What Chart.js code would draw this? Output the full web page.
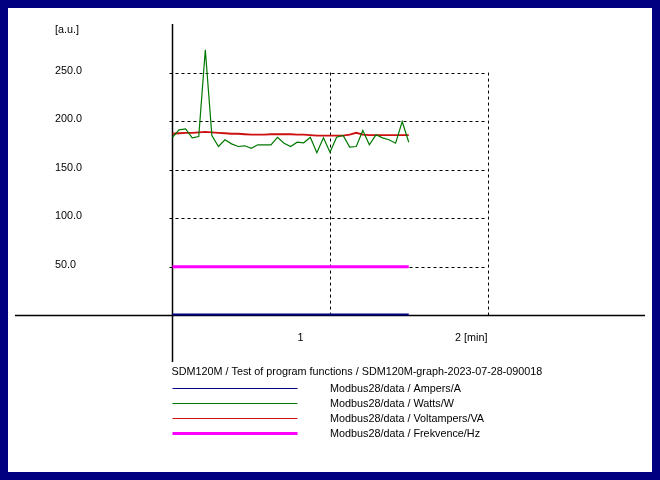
<!DOCTYPE html>
<html>
<head>
<meta charset="utf-8">
<script src="https://cdn.jsdelivr.net/npm/chart.js@4"></script>
<style>
  html, body { margin: 0; padding: 0; background: #000080; }
  #wrap { position: absolute; left: 8px; top: 8px; width: 644px; height: 464px; background: #fff; }
</style>
</head>
<body>
<div id="wrap"><canvas id="graph" width="644" height="464"></canvas></div>
<script>
const graphTitle = "SDM120M / Test of program functions / SDM120M-graph-2023-07-28-090018";
const yTicks = [50, 100, 150, 200, 250];
const xTicks = [1, 2];
const yUnit = "[a.u.]";
const xUnit = "[min]";

// sample times in seconds
const timeSec = [0, 2.5, 5, 7.5, 10, 12.5, 15, 17.5, 20, 22.5, 25, 27.5, 30, 32.5, 35, 37.5, 40, 42.5,
  45, 47.5, 50, 52.5, 55, 57.5, 60, 62.5, 65, 67.5, 70, 72.5, 75, 77.5, 80, 82.5, 85, 87.5, 90];

const ampers = [0.8, 0.8, 0.8, 0.8, 0.8, 0.8, 0.8, 0.8, 0.8, 0.8, 0.8, 0.8, 0.8, 0.8, 0.8, 0.8, 0.8, 0.8,
  0.8, 0.8, 0.8, 0.8, 0.8, 0.8, 0.8, 0.8, 0.8, 0.8, 0.8, 0.8, 0.8, 0.8, 0.8, 0.8, 0.8, 0.8, 0.8];
const watts = [183.4, 191.0, 192.1, 182.8, 184.2, 273.5, 185.2, 173.9, 180.8, 176.6, 173.9, 174.6, 172.1, 175.6,
  175.6, 175.6, 183.4, 177.3, 173.9, 178.3, 177.7, 183.4, 167.4, 182.8, 168.0, 183.4, 185.2, 173.2,
  173.9, 190.3, 175.6, 185.9, 182.8, 180.8, 177.3, 199.6, 178.3];
const voltampers = [187, 187.5, 188, 188, 188.5, 189, 188.5, 188, 187.5, 187, 187, 186.5, 186, 186, 186, 186.5,
  186.5, 186.5, 186.5, 186, 186, 185.5, 185, 185, 185, 185, 185, 186, 188, 186, 185.5, 185.5, 185.5,
  185.5, 185.5, 185.5, 185.5];
const frekvence = [50, 50, 50, 50, 50, 50, 50, 50, 50, 50, 50, 50, 50, 50, 50, 50, 50, 50,
  50, 50, 50, 50, 50, 50, 50, 50, 50, 50, 50, 50, 50, 50, 50, 50, 50, 50, 50];

const seriesNames = [
  "Modbus28/data / Ampers/A",
  "Modbus28/data / Watts/W",
  "Modbus28/data / Voltampers/VA",
  "Modbus28/data / Frekvence/Hz"
];

const toPoints = (vals) => vals.map((v, i) => ({ x: timeSec[i] / 60, y: v }));

const FONT = "10.8px 'Liberation Sans', Arial, sans-serif";

const axesPlugin = {
  id: "axes",
  beforeDatasetsDraw(chart) {
    const { ctx, chartArea, scales: { x, y } } = chart;
    const x0 = x.getPixelForValue(0);
    const y0 = y.getPixelForValue(0);
    const xEnd = x.getPixelForValue(xTicks[xTicks.length - 1]);
    const yTop = y.getPixelForValue(yTicks[yTicks.length - 1]);
    ctx.save();
    ctx.strokeStyle = "#000";
    ctx.lineWidth = 1;
    // dashed grid
    ctx.setLineDash([3, 3]);
    yTicks.forEach(v => {
      const py = Math.round(y.getPixelForValue(v)) + 0.5;
      ctx.beginPath();
      ctx.moveTo(x0 - 3, py);
      ctx.lineTo(xEnd, py);
      ctx.stroke();
    });
    xTicks.forEach(v => {
      const px = Math.round(x.getPixelForValue(v)) + 0.5;
      ctx.beginPath();
      ctx.moveTo(px, yTop);
      ctx.lineTo(px, y0 + 3);
      ctx.stroke();
    });
    // axes
    ctx.setLineDash([]);
    ctx.lineWidth = 1.5;
    ctx.beginPath();
    ctx.moveTo(chartArea.left, y0);
    ctx.lineTo(chartArea.right, y0);
    ctx.moveTo(x0, chartArea.top);
    ctx.lineTo(x0, chartArea.bottom);
    ctx.stroke();
    ctx.restore();
  },
  afterDraw(chart) {
    const { ctx, scales: { x, y } } = chart;
    const x0 = x.getPixelForValue(0);
    const y0 = y.getPixelForValue(0);
    ctx.save();
    ctx.font = FONT;
    ctx.fillStyle = "#000";
    ctx.textBaseline = "alphabetic";
    ctx.textAlign = "left";
    const labelX = 47;
    yTicks.forEach(v => {
      ctx.fillText(v.toFixed(1), labelX, y.getPixelForValue(v) + 1);
    });
    ctx.fillText(yUnit, labelX, 25);
    xTicks.forEach((v, i) => {
      const full = v + " " + xUnit;
      const w = ctx.measureText(full).width;
      const px = x.getPixelForValue(v);
      const txt = i === xTicks.length - 1 ? full : String(v);
      ctx.fillText(txt, px - w, y0 + 26);
    });
    // legend
    ctx.fillText(graphTitle, x0 - 1, 367);
    chart.data.datasets.forEach((ds, i) => {
      const ly = 379.5 + i * 15.2;
      ctx.strokeStyle = ds.borderColor;
      ctx.lineWidth = i === 3 ? 3 : 1;
      ctx.beginPath();
      ctx.moveTo(x0, Math.round(ly) + 0.5);
      ctx.lineTo(x0 + 125, Math.round(ly) + 0.5);
      ctx.stroke();
      ctx.fillText(ds.label, 322, ly + 4);
    });
    ctx.restore();
  }
};

new Chart(document.getElementById("graph").getContext("2d"), {
  type: "line",
  data: {
    datasets: [
      { label: seriesNames[0], data: toPoints(ampers), borderColor: "#000080", borderWidth: 2 },
      { label: seriesNames[1], data: toPoints(watts), borderColor: "#007800", borderWidth: 1.2 },
      { label: seriesNames[2], data: toPoints(voltampers), borderColor: "#cc1010", borderWidth: 1.8 },
      { label: seriesNames[3], data: toPoints(frekvence), borderColor: "#ff00ff", borderWidth: 3 }
    ]
  },
  options: {
    responsive: false,
    animation: false,
    events: [],
    layout: { padding: { left: 7, top: 16, right: 7, bottom: 110 } },
    elements: { point: { radius: 0 }, line: { tension: 0 } },
    plugins: { legend: { display: false }, tooltip: { enabled: false } },
    scales: {
      x: { type: "linear", min: -1, max: 3, display: false },
      y: { min: -48, max: 300, display: false }
    }
  },
  plugins: [axesPlugin]
});
</script>
</body>
</html>
